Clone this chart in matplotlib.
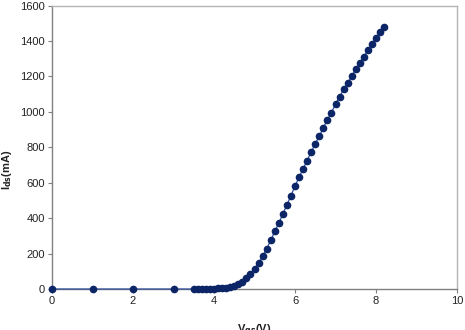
import matplotlib
matplotlib.use("Agg")
import matplotlib.pyplot as plt

plt.rcParams['font.family'] = ['Liberation Sans', 'DejaVu Sans']

# gate voltage (V) and drain current (mA)
vgs = [0, 1, 2, 3,
       3.5, 3.6, 3.7, 3.8, 3.9, 4.0, 4.1, 4.2, 4.3, 4.4, 4.5, 4.6, 4.7, 4.8, 4.9,
       5.0, 5.1, 5.2, 5.3, 5.4, 5.5, 5.6, 5.7, 5.8, 5.9,
       6.0, 6.1, 6.2, 6.3, 6.4, 6.5, 6.6, 6.7, 6.8, 6.9,
       7.0, 7.1, 7.2, 7.3, 7.4, 7.5, 7.6, 7.7, 7.8, 7.9,
       8.0, 8.1, 8.2]
ids = [0, 0, 0, 0,
       0, 0, 0, 1, 1, 2, 3, 5, 8, 12, 18, 28, 42, 62, 86,
       113, 147, 184, 227, 274, 325, 372, 423, 475, 526,
       582, 630, 678, 725, 774, 819, 863, 910, 955, 996,
       1043, 1086, 1126, 1162, 1201, 1239, 1275, 1308, 1350, 1380,
       1419, 1449, 1481]

xticks = [0, 2, 4, 6, 8, 10]
yticks = [0, 200, 400, 600, 800, 1000, 1200, 1400, 1600]

fig = plt.figure(figsize=(4.65, 3.3), dpi=100)
ax = fig.add_axes([52 / 465, 1 - 289 / 330, 405 / 465, 283.5 / 330])

ax.plot(vgs, ids, color='#2a4a9a', linewidth=0.9, marker='o', markersize=4.5,
        markerfacecolor='#0b2566', markeredgecolor='#0b2566', clip_on=False, zorder=3)

ax.set_xlim(0, 10)
ax.set_ylim(0, 1600)
ax.set_xticks(xticks)
ax.set_yticks(yticks)
ax.tick_params(direction='out', length=3, width=0.8, colors='#808080',
               labelcolor='#222222', labelsize=8, pad=2)

for side in ['left', 'bottom']:
    ax.spines[side].set_color('#808080')
    ax.spines[side].set_linewidth(1.0)
for side in ['right', 'top']:
    ax.spines[side].set_color('#b4b4b4')
    ax.spines[side].set_linewidth(1.0)

ax.set_ylabel('I$_{\\mathbf{ds}}$(mA)', fontsize=8, fontweight='bold', color='#222222')
ax.yaxis.set_label_coords(-0.093, 0.42)
ax.set_xlabel('V$_{\\mathbf{gs}}$(V)', fontsize=8, fontweight='bold', color='#222222')
ax.xaxis.set_label_coords(0.5, -0.12)

fig.savefig('out.png', dpi=100)
